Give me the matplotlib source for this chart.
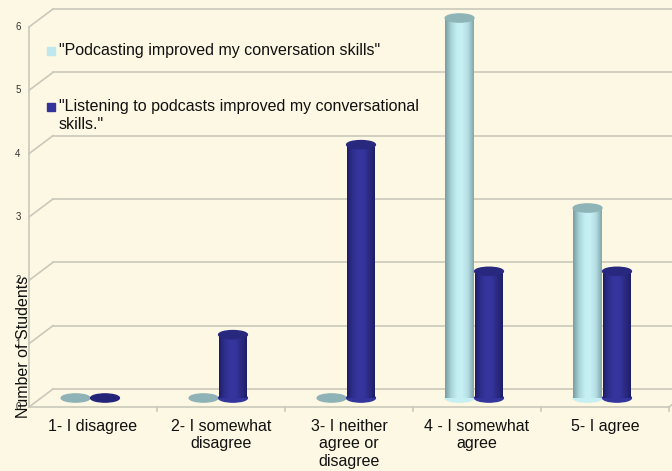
import numpy as np
import matplotlib
matplotlib.use("Agg")
import matplotlib.pyplot as plt
from matplotlib.patches import Rectangle, Ellipse
from matplotlib.colors import LinearSegmentedColormap

plt.rcParams["font.family"] = ["Liberation Sans", "DejaVu Sans"]

# 数据
categories = ["1- I disagree", "2- I somewhat\ndisagree", "3- I neither\nagree or\ndisagree",
              "4 - I somewhat\nagree", "5- I agree"]
podcasting = [0, 0, 0, 6, 3]
listening = [0, 1, 4, 2, 2]
series_names = ['"Podcasting improved my conversation skills"',
                '"Listening to podcasts improved my conversational\nskills."']
y_ticks = [0, 1, 2, 3, 4, 5, 6]

BG = "#fdf8e3"
GRID = "#c9c8bb"
DEPTH_X, DEPTH_Y = 0.1875, 0.284   # 3D 进深偏移（数据单位）
BAR_W = 0.225
ELL_H = 0.13

light_cmap = LinearSegmentedColormap.from_list(
    "light", ["#7c9fa4", "#a9d4d9", "#c3eef2", "#c6f0f4", "#b5dfe4", "#86aaae"])
dark_cmap = LinearSegmentedColormap.from_list(
    "dark", ["#1e1e68", "#2d2d8c", "#35359e", "#34349c", "#29297f", "#1f1f66"])
light_flat, dark_flat = "#8fb2b6", "#23237a"
light_top, dark_top = "#8fb4b8", "#28287f"

fig = plt.figure(figsize=(6.72, 4.71), dpi=100, facecolor=BG)
ax = fig.add_axes([29 / 672, 64 / 471, 640 / 672, 380 / 471])
ax.set_xlim(0, 5)
ax.set_ylim(0, 6)
ax.axis("off")

# 背景墙网格线和侧墙斜线
for k in y_ticks:
    ax.plot([DEPTH_X, 5 + DEPTH_X + 0.2], [k + DEPTH_Y] * 2, color=GRID, lw=1.2,
            clip_on=False, zorder=1)
    ax.plot([0, DEPTH_X], [k, k + DEPTH_Y], color=GRID, lw=1.2, clip_on=False, zorder=1)
    ax.text(-0.086, k, str(k), fontsize=7, ha="center", va="center", color="#333333")
# 前沿轴线
ax.plot([0, 0], [0, 6], color=GRID, lw=1.2, clip_on=False, zorder=1)
ax.plot([0, 5], [0, 0], color=GRID, lw=1.2, clip_on=False, zorder=1)
ax.plot([5, 5 + DEPTH_X], [0, DEPTH_Y], color=GRID, lw=1.2, clip_on=False, zorder=1)
for i in range(1, 6):
    ax.plot([i, i], [0, -0.06], color=GRID, lw=1.2, clip_on=False, zorder=1)


def draw_cylinder(cx, v, cmap, flat, top):
    x0 = cx + DEPTH_X / 2
    y0 = DEPTH_Y / 2
    if v == 0:
        ax.add_patch(Ellipse((x0, y0), BAR_W, ELL_H, color=flat, zorder=3, clip_on=False))
        return
    n = 30
    ax.add_patch(Ellipse((x0, y0), BAR_W, ELL_H, color=cmap(0.5), zorder=3, clip_on=False))
    for j in range(n):
        ax.add_patch(Rectangle((x0 - BAR_W / 2 + j * BAR_W / n, y0), BAR_W / n * 1.05, v,
                               color=cmap(j / (n - 1)), lw=0, zorder=3, clip_on=False))
    ax.add_patch(Ellipse((x0, y0 + v), BAR_W, ELL_H, color=top, zorder=4, clip_on=False))


for i in range(len(categories)):
    draw_cylinder(i + 0.27, podcasting[i], light_cmap, light_flat, light_top)
    draw_cylinder(i + 0.5, listening[i], dark_cmap, dark_flat, dark_top)

# x 轴标签
for i, lab in enumerate(categories):
    ax.text(i + 0.5, -0.19, lab, fontsize=11.5, ha="center", va="top",
            linespacing=1.2, color="#111111", clip_on=False)

# y 轴标题
ax.text(-0.045, 0.95, "Number of Students", fontsize=11.5, rotation=90,
        ha="center", va="center", color="#111111")

# 图例
legend_colors = ["#bfe8ee", "#333399"]
legend_y = [51, 107]
for c, name, ly in zip(legend_colors, series_names, legend_y):
    fig.patches.append(Rectangle((47 / 672, 1 - (ly + 4) / 471), 8 / 672, 8 / 471,
                                 transform=fig.transFigure, color=c))
    fig.text(59 / 672, 1 - (ly - 8) / 471, name, fontsize=11.5, ha="left", va="top",
             linespacing=1.25, color="#111111")

fig.savefig("out.png", dpi=100, facecolor=BG)
